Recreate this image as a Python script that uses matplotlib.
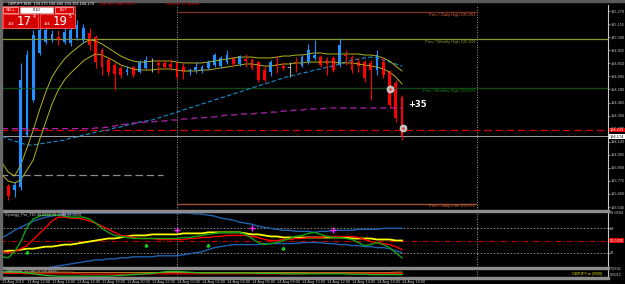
import matplotlib.pyplot as plt
from matplotlib.patches import Rectangle

W, H = 625, 284

# ---- GBPJPY M30 candles, 13 Aug 10:00 .. 14 Aug 18:00 ----
opens = [193.818, 193.730, 193.695, 193.721, 194.179, 194.487, 194.901, 194.997, 195.015, 195.041,
         194.997, 194.989, 195.033, 195.015, 195.077, 195.041, 194.927, 194.839, 194.795, 194.769,
         194.733, 194.777, 194.733, 194.769, 194.804, 194.813, 194.813, 194.804, 194.813, 194.777,
         194.742, 194.751, 194.742, 194.769, 194.795, 194.786, 194.821, 194.857, 194.804, 194.848,
         194.839, 194.821, 194.751, 194.733, 194.804, 194.786, 194.777, 194.821, 194.786, 194.821,
         194.857, 194.865, 194.839, 194.857, 194.795, 194.883, 194.865, 194.821, 194.821, 194.813,
         194.751, 194.821, 194.733, 194.637, 194.513]
highs = [193.853, 193.748, 193.765, 194.813, 194.927, 195.103, 195.138, 195.138, 195.103, 195.103,
         195.121, 195.129, 195.191, 195.155, 195.121, 195.059, 194.945, 194.865, 194.821, 194.786,
         194.786, 194.786, 194.839, 194.874, 194.857, 194.848, 194.839, 194.848, 194.821, 194.813,
         194.769, 194.821, 194.795, 194.839, 194.901, 194.874, 194.927, 194.865, 194.883, 194.892,
         194.857, 194.830, 194.786, 194.839, 194.874, 194.821, 194.821, 194.865, 194.883, 194.980,
         195.015, 194.883, 194.865, 194.874, 195.033, 194.927, 194.883, 194.857, 194.839, 194.839,
         194.927, 194.865, 194.751, 194.663, 194.531]
lows = [193.607, 193.607, 193.633, 193.695, 194.161, 194.469, 194.883, 194.980, 194.997, 194.971,
        194.980, 194.962, 195.015, 194.989, 194.927, 194.769, 194.707, 194.698, 194.575, 194.681,
        194.707, 194.690, 194.725, 194.760, 194.733, 194.725, 194.760, 194.751, 194.672, 194.672,
        194.707, 194.725, 194.725, 194.760, 194.777, 194.769, 194.804, 194.786, 194.786, 194.777,
        194.751, 194.645, 194.645, 194.698, 194.725, 194.751, 194.690, 194.733, 194.777, 194.804,
        194.839, 194.777, 194.707, 194.733, 194.777, 194.795, 194.725, 194.733, 194.645, 194.487,
        194.707, 194.681, 194.417, 194.293, 194.135]
closes = [193.695, 193.642, 193.739, 194.663, 194.883, 195.059, 195.103, 195.103, 195.068, 195.024,
          195.085, 195.103, 195.147, 195.121, 194.971, 194.821, 194.777, 194.733, 194.716, 194.707,
          194.751, 194.707, 194.821, 194.839, 194.800, 194.795, 194.777, 194.777, 194.690, 194.733,
          194.751, 194.777, 194.777, 194.821, 194.883, 194.857, 194.883, 194.804, 194.874, 194.830,
          194.769, 194.663, 194.663, 194.821, 194.786, 194.769, 194.773, 194.813, 194.865, 194.927,
          194.883, 194.795, 194.804, 194.751, 194.971, 194.874, 194.751, 194.786, 194.681, 194.751,
          194.883, 194.707, 194.443, 194.329, 194.174]

# envelope (olive) and moving averages
env_upper = [193.933, 193.853, 193.818, 193.915, 194.065, 194.223, 194.399, 194.557, 194.690, 194.777,
             194.848, 194.901, 194.945, 194.989, 195.015, 195.006, 194.980, 194.945, 194.909, 194.874,
             194.848, 194.830, 194.821, 194.821, 194.830, 194.830, 194.830, 194.830, 194.821, 194.813,
             194.813, 194.813, 194.813, 194.821, 194.830, 194.839, 194.848, 194.857, 194.865, 194.865,
             194.865, 194.857, 194.857, 194.857, 194.865, 194.874, 194.874, 194.883, 194.883, 194.892,
             194.901, 194.901, 194.892, 194.892, 194.892, 194.892, 194.892, 194.892, 194.883, 194.883,
             194.874, 194.857, 194.830, 194.786, 194.742]
env_lower = [193.827, 193.774, 193.757, 193.783, 193.871, 193.959, 194.135, 194.293, 194.452, 194.575,
             194.663, 194.725, 194.777, 194.830, 194.865, 194.892, 194.883, 194.857, 194.830, 194.795,
             194.777, 194.760, 194.751, 194.751, 194.751, 194.760, 194.760, 194.760, 194.751, 194.742,
             194.742, 194.742, 194.751, 194.751, 194.760, 194.769, 194.777, 194.786, 194.795, 194.804,
             194.804, 194.795, 194.786, 194.786, 194.795, 194.804, 194.804, 194.813, 194.813, 194.821,
             194.821, 194.821, 194.821, 194.821, 194.813, 194.813, 194.813, 194.804, 194.795, 194.786,
             194.777, 194.760, 194.733, 194.690, 194.628]
ma_cyan = [194.170, 194.144, 194.126, 194.109, 194.091, 194.091, 194.100, 194.109, 194.117, 194.126,
           194.135, 194.153, 194.161, 194.179, 194.188, 194.205, 194.214, 194.223, 194.241, 194.249,
           194.267, 194.276, 194.293, 194.302, 194.311, 194.329, 194.346, 194.364, 194.381, 194.399,
           194.417, 194.434, 194.452, 194.469, 194.487, 194.505, 194.522, 194.540, 194.557, 194.575,
           194.593, 194.610, 194.628, 194.645, 194.663, 194.681, 194.698, 194.707, 194.725, 194.733,
           194.751, 194.760, 194.777, 194.786, 194.804, 194.821, 194.839, 194.848, 194.857, 194.865,
           194.857, 194.839, 194.821, 194.804, 194.786]
ma_magenta = [194.235, 194.235, 194.235, 194.235, 194.235, 194.235, 194.235, 194.235, 194.235, 194.235,
              194.235, 194.235, 194.235, 194.235, 194.232, 194.241, 194.241, 194.249, 194.258, 194.267,
              194.276, 194.285, 194.285, 194.293, 194.293, 194.302, 194.302, 194.311, 194.311, 194.320,
              194.320, 194.329, 194.329, 194.337, 194.337, 194.346, 194.355, 194.355, 194.364, 194.364,
              194.364, 194.373, 194.373, 194.381, 194.381, 194.390, 194.390, 194.399, 194.399, 194.408,
              194.408, 194.408, 194.417, 194.417, 194.417, 194.417, 194.417, 194.417, 194.417, 194.417,
              194.417, 194.417, 194.417, 194.417, 194.417]

# horizontal levels
daily_high = 195.261
weekly_high = 195.024
monthly_high = 194.593
daily_low = 193.572
old_level = 193.827
red_level = 194.219
bid = 194.174

price_ticks = [195.270, 195.155, 195.040, 194.925, 194.810, 194.695, 194.580, 194.465,
               194.350, 194.235, 194.120, 194.005, 193.890, 193.775, 193.660, 193.545]

time_labels = ['13 Aug 2019', '13 Aug 12:00', '13 Aug 14:00', '13 Aug 16:00', '13 Aug 18:00',
               '13 Aug 20:00', '13 Aug 22:00', '14 Aug 00:00', '14 Aug 02:00', '14 Aug 04:00',
               '14 Aug 06:00', '14 Aug 08:00', '14 Aug 10:00', '14 Aug 12:00', '14 Aug 14:00',
               '14 Aug 16:00', '14 Aug 18:00']
time_ticks = list(range(0, 65, 4))
day_breaks = [28, 76]

# ---- TDI ----
tdi_green = [26, 24.5, 33.5, 48.5, 69.5, 81.5, 86, 87.5, 87.5, 87.5, 86, 84.5, 84.5, 84.5, 81.5, 75.5,
             68, 62, 57.5, 56, 54.5, 53, 53, 53, 53, 53, 53, 53, 53, 54.5, 54.5, 56, 57.5, 59, 60.5,
             62, 62, 62, 62, 59, 53, 47, 44, 45.5, 47, 50, 53, 56, 57.5, 60.5, 62, 59, 56, 54.5,
             54.5, 53, 51.5, 47, 42.5, 44, 47, 44, 39.5, 32, 24.5]
tdi_red = [33.5, 32, 33.5, 38, 42.5, 51.5, 60.5, 69.5, 78.5, 84.5, 84.5, 83, 83, 81.5, 78.5, 75.5,
           71, 66.5, 62, 57.5, 56, 54.5, 53, 53, 53, 51.5, 51.5, 51.5, 51.5, 51.5, 53, 53, 54.5,
           54.5, 56, 56, 57.5, 57.5, 57.5, 57.5, 56, 54.5, 51.5, 50, 50, 51.5, 51.5, 53, 53, 54.5,
           54.5, 54.5, 56, 56, 56, 56, 56, 54.5, 51.5, 48.5, 47, 45.5, 44, 41, 36.5]
tdi_yellow = [33.5, 35, 35, 36.5, 38, 38, 39.5, 41, 41, 42.5, 44, 44, 45.5, 47, 48.5, 50, 51.5, 53,
              53, 54.5, 56, 57.5, 57.5, 57.5, 59, 59, 59, 59, 59, 60.5, 60.5, 60.5, 60.5, 62, 62,
              62, 62, 62, 62, 60.5, 59, 59, 57.5, 56, 56, 54.5, 54.5, 54.5, 54.5, 54.5, 54.5, 54.5,
              54.5, 54.5, 54.5, 54.5, 53, 53, 53, 53, 51.5, 51.5, 51.5, 50, 50]
tdi_upper = [54.5, 59, 65, 69.5, 74, 78.5, 81.5, 84.5, 86, 87.5, 89, 89, 90.5, 90.5, 90.5, 90.5,
             90.5, 90.5, 90.5, 90.5, 90.5, 90.5, 90.5, 90.5, 90.5, 90.5, 90.5, 90.5, 90.5, 90.5,
             90.5, 89, 89, 87.5, 86, 83, 81.5, 80, 77, 75.5, 74, 71, 69.5, 68, 66.5, 65, 65, 63.5,
             63.5, 63.5, 62, 63.5, 63.5, 65, 65, 65, 65, 66.5, 66.5, 66.5, 66.5, 68, 68, 68, 68]
tdi_lower = [-1, 0.5, 2, 3.5, 5, 6.5, 8, 9.5, 11, 12.5, 14, 15.5, 17, 18.5, 20, 21.5, 21.5, 23, 23,
             24.5, 24.5, 26, 26, 26, 26, 27.5, 27.5, 27.5, 27.5, 29, 30.5, 32, 33.5, 36.5, 39.5, 41,
             42.5, 44, 44, 44, 44, 44, 45.5, 45.5, 45.5, 45.5, 45.5, 45.5, 47, 47, 47, 47, 45.5,
             45.5, 44, 44, 42.5, 42.5, 41, 41, 39.5, 39.5, 38, 35, 32]
sell_bars = [9.8, 28, 40, 53]
sell_vals = [92, 65, 68, 65]
buy_bars = [4, 23, 33, 45]
buy_vals = [33.5, 44, 44, 39.5]

# ---- small strength panel (0..1) ----
mini_red = [0.45, 0.45, 0.45, 0.45, 0.4, 0.4, 0.4, 0.4, 0.4, 0.4, 0.4, 0.4, 0.4, 0.35, 0.35, 0.35,
            0.35, 0.35, 0.35, 0.35, 0.35, 0.35, 0.35, 0.35, 0.4, 0.4, 0.4, 0.4, 0.4, 0.4, 0.4, 0.4,
            0.4, 0.4, 0.4, 0.4, 0.4, 0.4, 0.4, 0.4, 0.4, 0.4, 0.4, 0.4, 0.4, 0.4, 0.4, 0.4, 0.4,
            0.45, 0.45, 0.45, 0.45, 0.45, 0.45, 0.45, 0.45, 0.45, 0.45, 0.45, 0.45, 0.45, 0.45,
            0.45, 0.45]
mini_green = [0.65, 0.65, 0.65, 0.6, 0.5, 0.4, 0.3, 0.2, 0.15, 0.1, 0.1, 0.1, 0.1, 0.1, 0.1, 0.1,
              0.1, 0.1, 0.15, 0.2, 0.25, 0.3, 0.35, 0.4, 0.45, 0.55, 0.65, 0.7, 0.7, 0.65, 0.6, 0.55,
              0.5, 0.5, 0.5, 0.5, 0.5, 0.5, 0.5, 0.5, 0.5, 0.45, 0.45, 0.45, 0.45, 0.4, 0.4, 0.4,
              0.4, 0.4, 0.4, 0.4, 0.4, 0.4, 0.4, 0.4, 0.35, 0.35, 0.35, 0.3, 0.3, 0.3, 0.3, 0.3, 0.3]
mini_orange = [0.55, 0.55, 0.55, 0.6, 0.6, 0.6, 0.6, 0.6, 0.6, 0.6, 0.6, 0.6, 0.55, 0.55, 0.55, 0.55,
               0.55, 0.55, 0.55, 0.55, 0.55, 0.55, 0.55, 0.55, 0.55, 0.55, 0.55, 0.55, 0.55, 0.55,
               0.55, 0.55, 0.55, 0.55, 0.55, 0.55, 0.55, 0.55, 0.55, 0.55, 0.55, 0.55, 0.55, 0.55,
               0.55, 0.55, 0.55, 0.55, 0.55, 0.55, 0.55, 0.55, 0.55, 0.55, 0.55, 0.55, 0.55, 0.55,
               0.55, 0.55, 0.55, 0.55, 0.55, 0.6, 0.6]

idx = list(range(len(opens)))

BULL, BEAR, FG = '#1e90ff', '#ff0000', '#c8c8c8'
TS = 2.8  # axis text size
plt.rcParams['font.family'] = ['Liberation Sans Narrow', 'Liberation Sans', 'DejaVu Sans']

fig = plt.figure(figsize=(W / 100, H / 100), dpi=100, facecolor='black')


def rect(x0, y0, x1, y1):
    return [x0 / W, 1 - y1 / H, (x1 - x0) / W, (y1 - y0) / H]


ax = fig.add_axes(rect(0, 5, 608, 210), facecolor='black')
ti = fig.add_axes(rect(0, 212, 608, 267), facecolor='black', sharex=ax)
mi = fig.add_axes(rect(0, 269, 608, 277), facecolor='black', sharex=ax)

for a in (ax, ti, mi):
    for s in ('top', 'left', 'bottom'):
        a.spines[s].set_visible(False)
    a.spines['right'].set_color(FG)
    a.spines['right'].set_linewidth(0.8)
    a.yaxis.tick_right()
    a.tick_params(axis='y', colors=FG, labelsize=TS, length=1.2, width=0.5, pad=0.4)
    a.tick_params(axis='x', bottom=False, labelbottom=False)
    for d in day_breaks:
        a.axvline(d, color='#d0d0d0', lw=0.6, ls=(0, (1, 2)))

ax.set_xlim(-0.32, 96.96)

# ---- main chart ----
ax.set_ylim(193.519, 195.323)
ax.set_yticks(price_ticks)
ax.set_yticklabels([f'{p:.3f}' for p in price_ticks])

ax.axhline(weekly_high, color='#8a9a2a', lw=0.9)
ax.axhline(monthly_high, color='#0e4a12', lw=1.0)
ax.hlines(daily_high, day_breaks[0], day_breaks[1], color='#7a3020', lw=1.0)
ax.hlines(daily_low, day_breaks[0], day_breaks[1], color='#a05030', lw=1.0)
ax.hlines(old_level, -0.3, 25.8, color='#8c8c8c', lw=0.9, ls=(0, (6, 3)))
ax.axhline(red_level, color='#d00000', lw=0.9, ls=(0, (6, 3)))
ax.axhline(bid, color='#a0a0a0', lw=0.7)

lbl = dict(fontsize=3.0, ha='right', va='center')
ax.text(75.7, daily_high - 0.03, 'Prev / Daily High 195.261', color='#d8643c', **lbl)
ax.text(75.7, weekly_high - 0.03, 'Prev / Weekly High 195.024', color='#8a9a2a', **lbl)
ax.text(75.7, monthly_high - 0.03, 'Prev / Monthly High 194.593', color='#1a8a1a', **lbl)
ax.text(75.7, daily_low - 0.02, 'Prev / Daily Low 193.572', color='#d8643c', **lbl)

ax.plot(idx, ma_cyan, color='#1a8cc8', lw=0.8, ls=(0, (4, 2)))
ax.plot(idx, ma_magenta, color='#b020b0', lw=0.9, ls=(0, (5, 3)))
ax.plot(idx, env_upper, color='#b4b41e', lw=0.7)
ax.plot(idx, env_lower, color='#b4b41e', lw=0.7)

for i, o, h, l, c in zip(idx, opens, highs, lows, closes):
    col = BULL if c >= o else BEAR
    if abs(c - o) < 0.006:
        col = '#a8a8a8'
    ax.vlines(i, l, h, color=col, lw=0.8)
    ax.bar(i, max(abs(c - o), 0.006), bottom=min(o, c), width=0.42, color=col, lw=0)

ax.plot([62, 64.2], [194.58, 194.24], ls='none', marker='o', ms=5, mfc='#bdbdbd', mec='#e0e0e0', mew=0.5)
ax.plot([62, 64.2], [194.58, 194.24], ls='none', marker='o', ms=1.6, mfc='#ff2020', mec='none')
ax.text(65, 194.45, '+35', color='white', fontsize=6, fontweight='bold', va='center',
        family='DejaVu Sans')

box = dict(boxstyle='square,pad=0.12', lw=0)
ax.text(1.003, red_level + 0.004, f'{red_level:.3f}', transform=ax.get_yaxis_transform(), fontsize=TS,
        color='white', va='center', bbox=dict(fc='#e00000', **box), clip_on=False)
ax.text(1.003, bid - 0.012, f'{bid:.3f}', transform=ax.get_yaxis_transform(), fontsize=TS,
        color='black', va='center', bbox=dict(fc='white', **box), clip_on=False)

# ---- TDI panel ----
ti.set_ylim(11, 92)
ti.set_yticks([68, 32])
ti.set_yticklabels(['68', '32'])
ti.axhline(68, color='#9a9a9a', lw=0.6, ls=(0, (2, 2)))
ti.axhline(32, color='#9a9a9a', lw=0.6, ls=(0, (2, 2)))
ti.axhline(50, color='#c00000', lw=0.8, ls=(0, (5, 2, 1, 2)))
ti.plot(idx, tdi_upper, color='#2060b0', lw=1.0)
ti.plot(idx, tdi_lower, color='#2060b0', lw=1.0)
ti.plot(idx, tdi_yellow, color='#ffff00', lw=1.3)
ti.plot(idx, tdi_red, color='#ff0000', lw=1.0)
ti.plot(idx, tdi_green, color='#10a010', lw=1.0)
ti.plot(sell_bars, sell_vals, ls='none', marker='+', ms=4, mew=1, color='#ff30ff', clip_on=False)
ti.plot(buy_bars, buy_vals, ls='none', marker='^', ms=2, color='#20d020')
ti.text(0.5, 88, 'Synergy_Pro_TDI 49.8262 26.7758 35.4916', color=FG, fontsize=2.8, va='center')
ti.text(1.003, 50, '50.0000', transform=ti.get_yaxis_transform(), fontsize=TS,
        color='white', va='center', bbox=dict(fc='#e00000', **box), clip_on=False)
ti.text(1.003, 90, '96.0504', transform=ti.get_yaxis_transform(), fontsize=TS,
        color=FG, va='center', clip_on=False)

# ---- small bottom panel ----
mi.set_ylim(0, 1)
mi.set_yticks([])
mi.plot(idx, mini_orange, color='#c08020', lw=0.8)
mi.plot(idx, mini_red, color='#e00000', lw=0.9)
mi.plot(idx, mini_green, color='#20c020', lw=0.9)
mi.text(0.5, 0.75, 'TMAbands_v2 GBPJPY.m (M30)', color=FG, fontsize=2.6, va='center')
mi.text(96, 0.35, 'GBPJPY.m (M30)', color='#e0e000', fontsize=2.8, ha='right', va='center')
mi.text(1.003, 0.95, '7.0842', transform=mi.get_yaxis_transform(), fontsize=TS,
        color=FG, va='center', clip_on=False)
mi.text(1.003, 0.2, '0.0012', transform=mi.get_yaxis_transform(), fontsize=TS,
        color=FG, va='center', clip_on=False)

mi.tick_params(axis='x', bottom=True, labelbottom=True, colors=FG, labelsize=TS, length=1.2,
               width=0.5, pad=0.8)
mi.set_xticks(time_ticks)
mi.set_xticklabels(time_labels, ha='left')

# ---- frame / terminal decorations ----
ov = fig.add_axes([0, 0, 1, 1], facecolor='none', zorder=10)
ov.set_xlim(0, W)
ov.set_ylim(H, 0)
ov.axis('off')
ov.add_patch(Rectangle((0, 0), W, 2, color='#5a5a5a'))
for y0 in (210, 267, 277):
    ov.add_patch(Rectangle((0, y0), 609, 2, color='#8c8c8c'))
ov.add_patch(Rectangle((0, 0), 1.5, 279, color='#6a6a6a'))

ov.text(8, 4, 'GBPJPY,M30  194.270 194.460 194.158 194.174', color='white', fontsize=2.8, va='center')
ov.text(100, 4, 'Bar left: 0bar 14:59', color='#e00000', fontsize=3.0, va='center')
ov.text(166, 4, 'Spread: 2.1 points', color='#e00000', fontsize=3.0, va='center')

ov.add_patch(Rectangle((2, 6), 73, 22, fc='#c80000', ec='#ff6060', lw=0.5))
ov.add_patch(Rectangle((3, 7), 15, 6, fc='#e00000', ec='white', lw=0.4))
ov.add_patch(Rectangle((20, 7), 33, 6, fc='white', ec='#c0c0c0', lw=0.4))
ov.add_patch(Rectangle((55, 7), 18, 6, fc='#e00000', ec='white', lw=0.4))
ov.text(10.5, 10, 'SELL', color='white', fontsize=2.8, ha='center', va='center')
ov.text(64, 10, 'BUY', color='white', fontsize=2.8, ha='center', va='center')
ov.text(36.5, 10, '0.10', color='black', fontsize=2.8, ha='center', va='center')
ov.add_patch(Rectangle((3, 14), 35, 14, fc='#d40000', ec='#ff8080', lw=0.4))
ov.add_patch(Rectangle((40, 14), 35, 14, fc='#d40000', ec='#ff8080', lw=0.4))
ov.text(8, 24, '194', color='white', fontsize=2.8, ha='left', va='center')
ov.text(17, 21.5, '17', color='white', fontsize=8.5, ha='left', va='center', family='DejaVu Sans')
ov.text(32.5, 17, '4', color='white', fontsize=3.6, ha='left', va='center')
ov.text(44, 24, '194', color='white', fontsize=2.8, ha='left', va='center')
ov.text(53, 21.5, '19', color='white', fontsize=8.5, ha='left', va='center', family='DejaVu Sans')
ov.text(68.5, 17, '5', color='white', fontsize=3.6, ha='left', va='center')

fig.savefig('out.png', dpi=100, facecolor='black')
